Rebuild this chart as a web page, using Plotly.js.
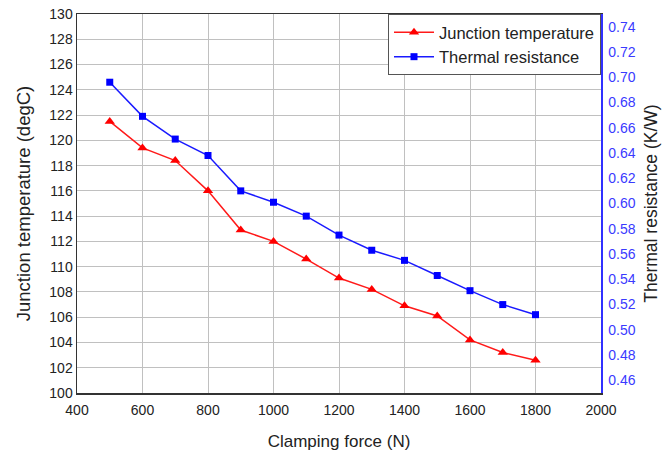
<!DOCTYPE html>
<html><head><meta charset="utf-8">
<script src="https://cdn.plot.ly/plotly-3.0.1.min.js"></script>
<style>html,body{margin:0;padding:0;background:#fff}#c{width:665px;height:455px}</style>
</head><body><div id="c"></div>
<script>
const force = [500,600,700,800,900,1000,1100,1200,1300,1400,1500,1600,1700,1800];
const junctionTemp = [121.5,119.4,118.4,116.0,112.9,112.0,110.6,109.1,108.2,106.9,106.1,104.2,103.2,102.6];
const thermalRes = [0.696,0.669,0.651,0.638,0.610,0.601,0.590,0.575,0.563,0.555,0.543,0.531,0.520,0.512];
const leftTicks = [100,102,104,106,108,110,112,114,116,118,120,122,124,126,128,130];
const rightTicks = [0.46,0.48,0.50,0.52,0.54,0.56,0.58,0.60,0.62,0.64,0.66,0.68,0.70,0.72,0.74];
const xTicks = [400,600,800,1000,1200,1400,1600,1800,2000];

const font = 'Liberation Sans, Arial, sans-serif';
const data = [
  {x: force, y: junctionTemp, name: 'Junction temperature', type: 'scatter', mode: 'lines+markers',
   line: {color: '#ff1a1a', width: 1.5}, marker: {symbol: 'triangle-up', size: 9, color: '#ff0000'}},
  {x: force, y: thermalRes, name: 'Thermal resistance', type: 'scatter', mode: 'lines+markers', yaxis: 'y2',
   line: {color: '#1a1aff', width: 1.5}, marker: {symbol: 'square', size: 7, color: '#0000ff'}}
];
const layout = {
  width: 665, height: 455,
  margin: {l: 77, r: 64, t: 14, b: 62},
  paper_bgcolor: '#fff', plot_bgcolor: '#fff',
  font: {family: font, color: '#222', size: 14},
  showlegend: true,
  legend: {x: 1, y: 1, xanchor: 'right', yanchor: 'top', bgcolor: '#fff', bordercolor: '#555', borderwidth: 1,
           font: {size: 16.5, color: '#222'}, tracegroupgap: 0, itemwidth: 40},
  xaxis: {range: [400, 2000], tickvals: xTicks, ticktext: xTicks.map(String), showgrid: true, gridcolor: '#c0c0c0',
          showline: true, linecolor: '#333', linewidth: 1.5, mirror: true, ticks: '', zeroline: false,
          ticklabelstandoff: 4,
          tickfont: {size: 14, color: '#222'},
          title: {text: 'Clamping force (N)', font: {size: 17, color: '#222'}, standoff: 18}},
  yaxis: {range: [100, 130], tickvals: leftTicks, ticktext: leftTicks.map(String), showgrid: true, gridcolor: '#c0c0c0',
          showline: true, linecolor: '#333', linewidth: 1.5, ticks: '', zeroline: false,
          tickfont: {size: 14, color: '#222'},
          title: {text: 'Junction temperature (degC)', font: {size: 18.5, color: '#222'}, standoff: 14}},
  yaxis2: {range: [0.45, 0.75], overlaying: 'y', side: 'right', tickvals: rightTicks, ticktext: rightTicks.map(v => v.toFixed(2)),
           showgrid: false, showline: true, linecolor: '#3030ff', linewidth: 1.5, ticks: '', zeroline: false,
           ticklabelstandoff: 3,
           tickfont: {size: 14, color: '#3a3aff'},
           title: {text: 'Thermal resistance (K/W)', font: {size: 17.5, color: '#222'}, standoff: 10}}
};
Plotly.newPlot('c', data, layout, {displayModeBar: false, staticPlot: true});
</script></body></html>
